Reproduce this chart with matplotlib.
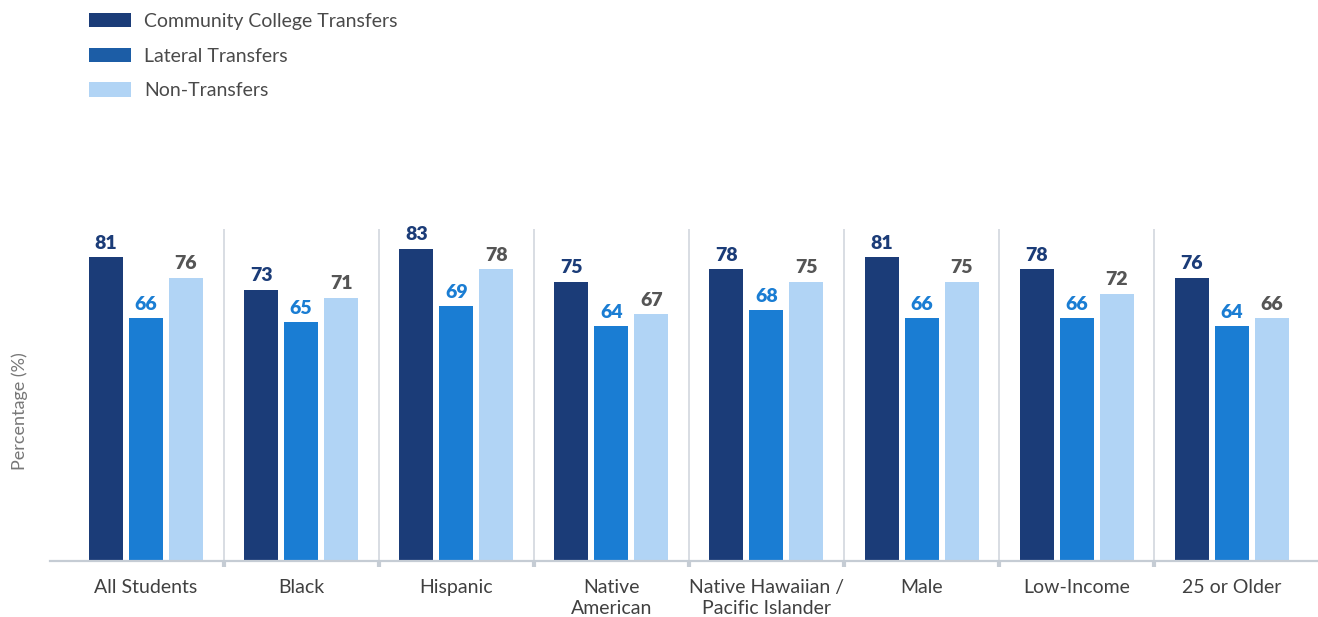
import numpy as np
import matplotlib.pyplot as plt
from matplotlib.patches import Patch

plt.rcParams['font.family'] = ['Lato', 'DejaVu Sans']

categories = ['All Students', 'Black', 'Hispanic', 'Native\nAmerican',
              'Native Hawaiian /\nPacific Islander', 'Male', 'Low-Income',
              '25 or Older']
community = [81, 73, 83, 75, 78, 81, 78, 76]
lateral = [66, 65, 69, 64, 68, 66, 66, 64]
non_transfer = [76, 71, 78, 67, 75, 75, 72, 66]
series_names = ['Community College Transfers', 'Lateral Transfers', 'Non-Transfers']

bar_colors = ['#1b3c78', '#1a7dd3', '#b1d4f5']
legend_colors = ['#1b3c78', '#1c5da6', '#b1d4f5']
label_colors = ['#1b3c78', '#1a7dd3', '#555555']

fig = plt.figure(figsize=(13.18, 6.17), dpi=100)
ax = fig.add_axes([50 / 1318, (617 - 561) / 617, 1268 / 1318, 332 / 617])

x = np.arange(len(categories))
width = 0.219
step = 0.258
for k, vals in enumerate([community, lateral, non_transfer]):
    bars = ax.bar(x + (k - 1) * step, vals, width, color=bar_colors[k], zorder=3)
    ax.bar_label(bars, padding=4, color=label_colors[k], fontsize=14,
                 fontweight='heavy')

# separators between groups
for s in x[:-1] + 0.5:
    ax.axvline(s, color='#d5dae0', lw=1.3, zorder=1)

ax.set_xlim(-0.619, 7.556)
ax.set_ylim(6.5, 87.9)

for side in ['top', 'right', 'left']:
    ax.spines[side].set_visible(False)
ax.spines['bottom'].set_color('#c5ccd4')
ax.spines['bottom'].set_linewidth(1.6)
ax.spines['bottom'].set_zorder(4)

ax.set_yticks([])
ax.set_xticks(x)
ax.set_xticklabels(categories, fontsize=14, color='#404040', linespacing=1.3)
ax.tick_params(axis='x', which='major', length=0, pad=13)
ax.set_xticks(x[:-1] + 0.5, minor=True)
ax.tick_params(axis='x', which='minor', length=4, width=3, color='#c5ccd4')

ax.set_ylabel('Percentage (%)', fontsize=13, color='#777777')
ax.yaxis.set_label_coords(-0.017, 0.45)

handles = [Patch(facecolor=c) for c in legend_colors]
fig.legend(handles, series_names, loc='upper left',
           bbox_to_anchor=(89 / 1318, 1 - 13 / 617), frameon=False,
           fontsize=14, labelcolor='#4a4a4a', handlelength=2.16,
           handleheight=0.77, labelspacing=0.9, handletextpad=0.67,
           borderpad=0, borderaxespad=0)

fig.savefig('out.png', dpi=100)
